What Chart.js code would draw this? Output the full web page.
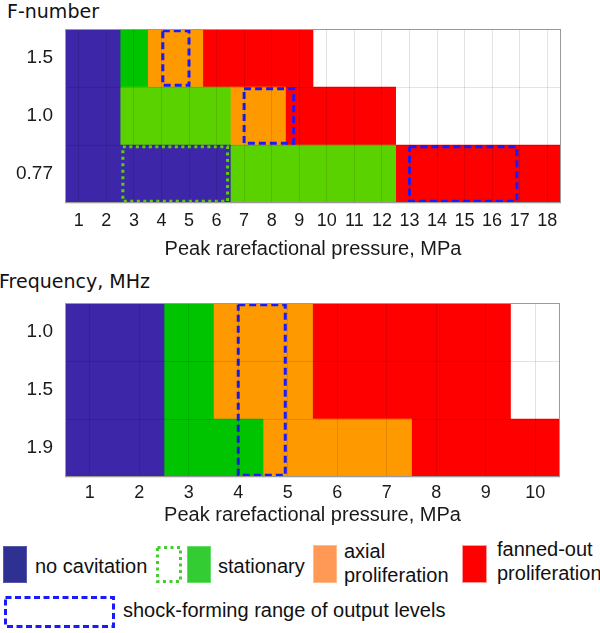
<!DOCTYPE html>
<html>
<head>
<meta charset="utf-8">
<script src="https://cdn.jsdelivr.net/npm/chart.js@4.4.0/dist/chart.umd.min.js"></script>
<style>
  body { margin: 0; background: #fff; font-family: 'Liberation Sans', Arial, sans-serif; color: #111; }
  #page { position: relative; width: 600px; height: 633px; overflow: hidden; }
  .title { position: absolute; font-family: 'DejaVu Sans', Verdana, sans-serif; font-size: 19px; line-height: 22px; white-space: nowrap; }
  .holder { position: absolute; left: 0; width: 600px; }
  .sw { position: absolute; box-sizing: border-box; }
  .txt { position: absolute; font-size: 20px; line-height: 24px; white-space: nowrap; }
  svg { position: absolute; overflow: visible; }
</style>
</head>
<body>
<div id="page">
  <div class="title" style="left:7px; top:0">F-number</div>
  <div class="holder" style="top:0; height:262px"><canvas id="fChart"></canvas></div>
  <div class="title" style="left:-1px; top:270px">Frequency, MHz</div>
  <div class="holder" style="top:262px; height:268px"><canvas id="freqChart"></canvas></div>

  <!-- legend -->
  <div class="sw" style="left:3px; top:546px; width:24px; height:37px; background:#2e3192; border:1px solid #5658a8"></div>
  <div class="txt" style="left:35px; top:554px">no cavitation</div>
  <svg style="left:156px; top:546px" width="26" height="37">
    <rect x="1.5" y="1.5" width="23" height="34" fill="none" stroke="#44cc33" stroke-width="3" stroke-dasharray="3 3.5"/>
  </svg>
  <div class="sw" style="left:187px; top:546px; width:24px; height:37px; background:#33cc33; border:1px solid #66dd66"></div>
  <div class="txt" style="left:218px; top:554px">stationary</div>
  <div class="sw" style="left:313px; top:545px; width:24px; height:38px; background:#ff9955; border:1px solid #ffbb88"></div>
  <div class="txt" style="left:344px; top:539px">axial<br>proliferation</div>
  <div class="sw" style="left:462px; top:545px; width:25px; height:38px; background:#ff0000; border:1px solid #ff9999"></div>
  <div class="txt" style="left:497px; top:537px">fanned-out<br>proliferation</div>
  <svg style="left:4px; top:596px" width="111" height="32">
    <rect x="1.5" y="1.5" width="108" height="29" fill="none" stroke="#1a1aff" stroke-width="3" stroke-dasharray="6 3.5"/>
  </svg>
  <div class="txt" style="left:123px; top:598px">shock-forming range of output levels</div>
</div>

<script>
// F-number chart: rows and pressure levels (MPa)
const fNumbers = ['1.5', '1.0', '0.77'];
const fPressures = [1, 2, 3, 4, 5, 6, 7, 8, 9, 10, 11, 12, 13, 14, 15, 16, 17, 18];
// [first, last] pressure level of each regime, one entry per row
const fNoCavitation = [[1, 2], [1, 2], [1, 6]];
const fStationary = [[3, 3], [3, 6], [7, 12]];
const fAxial = [[4, 5], [7, 8], null];
const fFanned = [[6, 9], [9, 12], [13, 18]];
// shock-forming pressure range per row
const fShock = [[4.05, 5.0], [7.0, 8.8], [13.0, 16.9]];
// dotted "stationary" outline on the 0.77 row
const fStationaryOutline = [2.6, 6.4];

// Frequency chart
const freqs = ['1.0', '1.5', '1.9'];
const freqPressures = [1, 2, 3, 4, 5, 6, 7, 8, 9, 10];
const freqNoCavitation = [[1, 2], [1, 2], [1, 2]];
const freqStationary = [[3, 3], [3, 3], [3, 4]];
const freqAxial = [[4, 5], [4, 5], [5, 7]];
const freqFanned = [[6, 9], [6, 9], [8, 10]];
// shock-forming range, spans all frequencies
const freqShock = [4.0, 4.95];

const SANS = "'Liberation Sans', Arial, sans-serif";
const INK = '#1a1a1a';
const GRID = 'rgba(0,0,0,0.11)';
const INSET = 0.03;

const BLUE = '#3e26a8';
const ORANGE = '#ff9900';
const RED = '#ff0000';
const SHOCK_BLUE = '#1a1aff';

// level ranges -> floating bar extents (each level is one cell wide)
const cells = levels => levels.map(r => r ? [r[0] - 0.5, r[1] + 0.5] : null);

function bars(label, levels, color) {
    return {
        type: 'bar',
        label: label,
        data: cells(levels),
        backgroundColor: color,
        yAxisID: 'y',
        grouped: false,
        barPercentage: 1,
        categoryPercentage: 1,
        borderWidth: 0,
        order: 2
    };
}

function outline(range, rowFrom, rowTo, color, dash) {
    const top = rowFrom - 0.5 + INSET;
    const bot = rowTo + 0.5 - INSET;
    return {
        type: 'scatter',
        indexAxis: 'x',
        showLine: true,
        data: [
            {x: range[0], y: top}, {x: range[1], y: top},
            {x: range[1], y: bot}, {x: range[0], y: bot},
            {x: range[0], y: top}
        ],
        borderColor: color,
        borderWidth: 3,
        borderDash: dash,
        borderJoinStyle: 'miter',
        pointRadius: 0,
        fill: false,
        yAxisID: 'yBox',
        order: 1
    };
}

const frame = {
    id: 'frame',
    afterDraw(chart) {
        const {ctx, chartArea: a} = chart;
        ctx.save();
        ctx.strokeStyle = '#9a9a9a';
        ctx.lineWidth = 1;
        ctx.strokeRect(a.left + 0.5, a.top + 0.5, a.width - 1, a.height - 1);
        ctx.restore();
    }
};

function makeChart(id, rows, pressures, datasets, pad, xHeight, tickPad, titlePad) {
    return new Chart(document.getElementById(id), {
        type: 'bar',
        data: { labels: rows, datasets: datasets },
        options: {
            indexAxis: 'y',
            responsive: true,
            maintainAspectRatio: false,
            animation: false,
            layout: { padding: pad },
            plugins: {
                legend: { display: false },
                tooltip: { enabled: false },
                title: { display: false }
            },
            scales: {
                x: {
                    type: 'linear',
                    min: pressures[0] - 0.5,
                    max: pressures[pressures.length - 1] + 0.5,
                    afterBuildTicks: s => { s.ticks = pressures.map(v => ({value: v})); },
                    afterFit: s => { s.height = xHeight; },
                    grid: { color: GRID, drawTicks: false, z: 1 },
                    border: { display: false },
                    ticks: { padding: tickPad, font: { family: SANS, size: 18 }, color: INK, maxRotation: 0, autoSkip: false },
                    title: {
                        display: true,
                        text: 'Peak rarefactional pressure, MPa',
                        font: { family: SANS, size: 20 },
                        color: INK,
                        padding: { top: 0, bottom: titlePad }
                    }
                },
                y: {
                    type: 'category',
                    labels: rows,
                    offset: true,
                    afterFit: s => { s.width = 65; },
                    grid: { offset: true, color: GRID, drawTicks: false, z: 1 },
                    border: { display: false },
                    ticks: { padding: 12, font: { family: SANS, size: 19 }, color: INK }
                },
                yBox: {
                    type: 'linear',
                    display: false,
                    offset: false,
                    grid: { offset: false },
                    min: -0.5,
                    max: rows.length - 0.5,
                    reverse: true
                }
            }
        },
        plugins: [frame]
    });
}

makeChart('fChart', fNumbers, fPressures, [
    bars('no cavitation', fNoCavitation, BLUE),
    bars('stationary', fStationary, ['#00c400', '#5ad200', '#5ad200']),
    bars('axial proliferation', fAxial, ORANGE),
    bars('fanned-out proliferation', fFanned, RED),
    outline(fStationaryOutline, 2, 2, '#5ad200', [3, 3.5]),
    outline(fShock[0], 0, 0, SHOCK_BLUE, [7, 4]),
    outline(fShock[1], 1, 1, SHOCK_BLUE, [7, 4]),
    outline(fShock[2], 2, 2, SHOCK_BLUE, [7, 4])
], { top: 29, right: 39, left: 0, bottom: 0 }, 59, 7, 1);

makeChart('freqChart', freqs, freqPressures, [
    bars('no cavitation', freqNoCavitation, BLUE),
    bars('stationary', freqStationary, '#00c400'),
    bars('axial proliferation', freqAxial, ORANGE),
    bars('fanned-out proliferation', freqFanned, RED),
    outline(freqShock, 0, 2, SHOCK_BLUE, [7, 4])
], { top: 41, right: 40, left: 0, bottom: 0 }, 53, 5, 3);
</script>
</body>
</html>
